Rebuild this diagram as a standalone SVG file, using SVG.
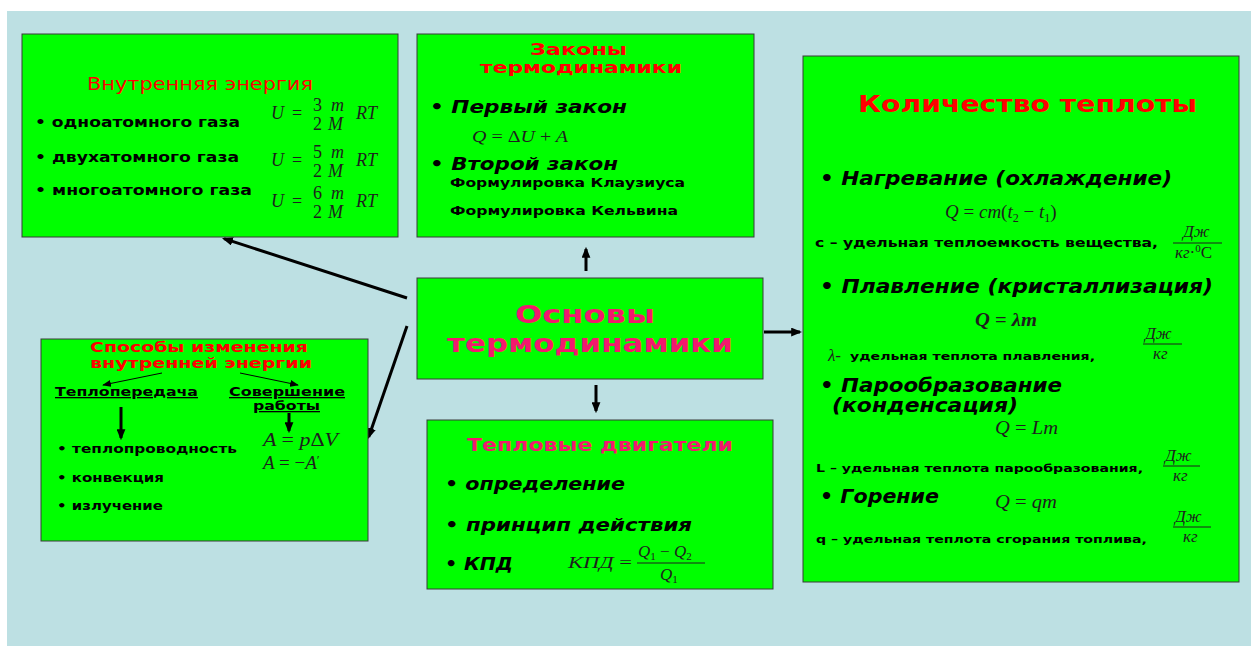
<svg xmlns="http://www.w3.org/2000/svg" width="1251" height="646" viewBox="0 0 1251 646">
<defs>
<style>
.box{fill:#00ff00;stroke:#3a3a3a;stroke-width:1}
.red{fill:#ff0000;font-family:"DejaVu Sans","Liberation Sans",sans-serif}
.pink{fill:#f2196d;font-family:"DejaVu Sans","Liberation Sans",sans-serif;font-weight:bold}
.b{fill:#000;font-family:"DejaVu Sans","Liberation Sans",sans-serif;font-weight:bold}
.bi{fill:#000;font-family:"DejaVu Sans","Liberation Sans",sans-serif;font-weight:bold;font-style:italic}
.m{fill:#1e1e1e;font-family:"Liberation Serif","DejaVu Serif",serif;font-style:italic}
.mn{font-style:normal}
.bar{stroke:#1e1e1e;stroke-width:1}
.arr{stroke:#000;stroke-width:3;fill:none}
.thin{stroke:#000;stroke-width:1;fill:none}
</style>
<marker id="ah" viewBox="0 0 10 8" refX="8" refY="4" markerUnits="userSpaceOnUse" markerWidth="11" markerHeight="9" orient="auto">
<path d="M0,0 L10,4 L0,8 Z" fill="#000"/>
</marker>
<marker id="ahs" viewBox="0 0 10 8" refX="9" refY="4" markerUnits="userSpaceOnUse" markerWidth="9" markerHeight="7" orient="auto">
<path d="M0,0 L10,4 L0,8 Z" fill="#000"/>
</marker>
</defs>
<rect x="0" y="0" width="1251" height="646" fill="#ffffff"/>
<rect x="7" y="11" width="1244" height="635" fill="#bde0e3"/>

<g id="connectors">
<line class="arr" x1="407" y1="298" x2="224" y2="238.6" marker-end="url(#ah)"/>
<line class="arr" x1="407" y1="326" x2="368.7" y2="437" marker-end="url(#ah)"/>
<line class="arr" x1="586" y1="271" x2="586" y2="249" marker-end="url(#ah)"/>
<line class="arr" x1="596" y1="385" x2="596" y2="411" marker-end="url(#ah)"/>
<line class="arr" x1="764" y1="332" x2="800" y2="332" marker-end="url(#ah)"/>
</g>

<g id="node-internal-energy">
<rect class="box" x="22" y="34" width="376" height="203"/>
<text class="red" x="87" y="90" font-size="17" textLength="226" lengthAdjust="spacingAndGlyphs">Внутренняя энергия</text>
<text class="b" x="35" y="127" font-size="13.5" textLength="205" lengthAdjust="spacingAndGlyphs">• одноатомного газа</text>
<text class="b" x="35" y="162" font-size="13.5" textLength="204" lengthAdjust="spacingAndGlyphs">• двухатомного газа</text>
<text class="b" x="35" y="195" font-size="13.5" textLength="217" lengthAdjust="spacingAndGlyphs">• многоатомного газа</text>
<g class="m" font-size="18">
<text x="271" y="119">U</text><text class="mn" x="292" y="119">=</text><text class="mn" x="313" y="111">3</text><text class="mn" x="313" y="130">2</text><text x="331" y="111">m</text><text x="328" y="130">M</text><text x="356" y="119">RT</text>
<text x="271" y="166">U</text><text class="mn" x="292" y="166">=</text><text class="mn" x="313" y="158">5</text><text class="mn" x="313" y="177">2</text><text x="331" y="158">m</text><text x="328" y="177">M</text><text x="356" y="166">RT</text>
<text x="271" y="207">U</text><text class="mn" x="292" y="207">=</text><text class="mn" x="313" y="199">6</text><text class="mn" x="313" y="218">2</text><text x="331" y="199">m</text><text x="328" y="218">M</text><text x="356" y="207">RT</text>
</g>
</g>

<g id="node-laws">
<rect class="box" x="417" y="34" width="337" height="203"/>
<text class="red" font-weight="bold" x="530" y="55" font-size="16" textLength="97" lengthAdjust="spacingAndGlyphs">Законы</text>
<text class="red" font-weight="bold" x="480" y="73" font-size="16" textLength="202" lengthAdjust="spacingAndGlyphs">термодинамики</text>
<text class="bi" x="430" y="113" font-size="18" textLength="197" lengthAdjust="spacingAndGlyphs">• Первый закон</text>
<text class="m" x="472" y="142" font-size="17" textLength="96" lengthAdjust="spacingAndGlyphs">Q <tspan class="mn">= Δ</tspan>U <tspan class="mn">+</tspan> A</text>
<text class="bi" x="430" y="170" font-size="18" textLength="188" lengthAdjust="spacingAndGlyphs">• Второй закон</text>
<text class="b" x="450" y="187" font-size="12" textLength="235" lengthAdjust="spacingAndGlyphs">Формулировка Клаузиуса</text>
<text class="b" x="450" y="215" font-size="12" textLength="228" lengthAdjust="spacingAndGlyphs">Формулировка Кельвина</text>
</g>

<g id="node-heat">
<rect class="box" x="803" y="56" width="436" height="526"/>
<text class="red" font-weight="bold" x="858" y="112" font-size="23" textLength="339" lengthAdjust="spacingAndGlyphs">Количество теплоты</text>
<text class="bi" x="820" y="185" font-size="19" textLength="352" lengthAdjust="spacingAndGlyphs">• Нагревание (охлаждение)</text>
<text class="m" x="945" y="218" font-size="19">Q <tspan class="mn">=</tspan> cm<tspan class="mn">(</tspan>t<tspan font-size="12" dy="4" class="mn">2</tspan><tspan dy="-4"> </tspan><tspan class="mn">−</tspan> t<tspan font-size="12" dy="4" class="mn">1</tspan><tspan dy="-4" class="mn">)</tspan></text>
<text class="b" x="815" y="247" font-size="12" textLength="343" lengthAdjust="spacingAndGlyphs">c – удельная теплоемкость вещества,</text>
<text class="m" x="1183" y="237" font-size="17">Дж</text>
<line class="bar" x1="1173" y1="243" x2="1222" y2="243"/>
<text class="m" x="1175" y="258" font-size="17">кг<tspan class="mn">·</tspan><tspan class="mn" font-size="11" dy="-6">0</tspan><tspan dy="6" class="mn">C</tspan></text>

<text class="bi" x="820" y="293" font-size="19" textLength="393" lengthAdjust="spacingAndGlyphs">• Плавление (кристаллизация)</text>
<text class="m" x="975" y="326" font-size="19" font-weight="bold" textLength="62" lengthAdjust="spacingAndGlyphs">Q <tspan class="mn">=</tspan> λm</text>
<text class="m" x="828" y="361" font-size="17">λ-</text>
<text class="b" x="850" y="360" font-size="11" textLength="245" lengthAdjust="spacingAndGlyphs">удельная теплота плавления,</text>
<text class="m" x="1145" y="339" font-size="17">Дж</text>
<line class="bar" x1="1143" y1="344" x2="1182" y2="344"/>
<text class="m" x="1153" y="359" font-size="17">кг</text>

<text class="bi" x="820" y="392" font-size="19" textLength="242" lengthAdjust="spacingAndGlyphs">• Парообразование</text>
<text class="bi" x="832" y="412" font-size="19" textLength="186" lengthAdjust="spacingAndGlyphs">(конденсация)</text>
<text class="m" x="995" y="434" font-size="19" textLength="63" lengthAdjust="spacingAndGlyphs">Q <tspan class="mn">=</tspan> Lm</text>
<text class="b" x="816" y="472" font-size="11" textLength="327" lengthAdjust="spacingAndGlyphs">L – удельная теплота парообразования,</text>
<text class="m" x="1165" y="461" font-size="17">Дж</text>
<line class="bar" x1="1163" y1="466" x2="1200" y2="466"/>
<text class="m" x="1173" y="481" font-size="17">кг</text>

<text class="bi" x="820" y="503" font-size="19" textLength="119" lengthAdjust="spacingAndGlyphs">• Горение</text>
<text class="m" x="995" y="508" font-size="19" textLength="62" lengthAdjust="spacingAndGlyphs">Q <tspan class="mn">=</tspan> qm</text>
<text class="b" x="816" y="543" font-size="11" textLength="331" lengthAdjust="spacingAndGlyphs">q – удельная теплота сгорания топлива,</text>
<text class="m" x="1175" y="522" font-size="17">Дж</text>
<line class="bar" x1="1173" y1="527" x2="1211" y2="527"/>
<text class="m" x="1183" y="542" font-size="17">кг</text>
</g>

<g id="node-center">
<rect class="box" x="417" y="278" width="346" height="101"/>
<text class="pink" x="515" y="323" font-size="24" textLength="140" lengthAdjust="spacingAndGlyphs">Основы</text>
<text class="pink" x="447" y="352" font-size="24" textLength="286" lengthAdjust="spacingAndGlyphs">термодинамики</text>
</g>

<g id="node-methods">
<rect class="box" x="41" y="339" width="327" height="202"/>
<text class="red" font-weight="bold" x="90" y="352" font-size="14" textLength="218" lengthAdjust="spacingAndGlyphs">Способы изменения</text>
<text class="red" font-weight="bold" x="90" y="368" font-size="14" textLength="222" lengthAdjust="spacingAndGlyphs">внутренней энергии</text>
<line class="thin" x1="162" y1="373" x2="103" y2="385" marker-end="url(#ahs)"/>
<line class="thin" x1="240" y1="373" x2="298" y2="385" marker-end="url(#ahs)"/>
<text class="b" x="55" y="396" font-size="13" text-decoration="underline" textLength="143" lengthAdjust="spacingAndGlyphs">Теплопередача</text>
<text class="b" x="229" y="396" font-size="13" text-decoration="underline" textLength="116" lengthAdjust="spacingAndGlyphs">Совершение</text>
<text class="b" x="253" y="410" font-size="13" text-decoration="underline" textLength="67" lengthAdjust="spacingAndGlyphs">работы</text>
<line class="arr" x1="121" y1="407" x2="121" y2="438" marker-end="url(#ah)"/>
<line class="arr" x1="289" y1="413" x2="289" y2="431" stroke-width="2.5" marker-end="url(#ah)"/>
<text class="m" x="263" y="446" font-size="19" textLength="75" lengthAdjust="spacingAndGlyphs">A <tspan class="mn">=</tspan> p<tspan class="mn">Δ</tspan>V</text>
<text class="m" x="263" y="469" font-size="19">A <tspan class="mn">= −</tspan>A<tspan class="mn" font-size="13" dy="-5">′</tspan></text>
<text class="b" x="57" y="453" font-size="12.5" textLength="180" lengthAdjust="spacingAndGlyphs">• теплопроводность</text>
<text class="b" x="57" y="482" font-size="12.5" textLength="107" lengthAdjust="spacingAndGlyphs">• конвекция</text>
<text class="b" x="57" y="510" font-size="12.5" textLength="106" lengthAdjust="spacingAndGlyphs">• излучение</text>
</g>

<g id="node-engines">
<rect class="box" x="427" y="420" width="346" height="169"/>
<text class="pink" x="467" y="451" font-size="17" textLength="266" lengthAdjust="spacingAndGlyphs">Тепловые двигатели</text>
<text class="bi" x="445" y="490" font-size="17" textLength="180" lengthAdjust="spacingAndGlyphs">• определение</text>
<text class="bi" x="445" y="531" font-size="17" textLength="247" lengthAdjust="spacingAndGlyphs">• принцип действия</text>
<text class="bi" x="445" y="570" font-size="17" textLength="68" lengthAdjust="spacingAndGlyphs">• КПД</text>
<text class="m" x="568" y="568" font-size="17" textLength="64" lengthAdjust="spacingAndGlyphs">КПД <tspan class="mn">=</tspan></text>
<text class="m" x="638" y="557" font-size="17">Q<tspan class="mn" font-size="11" dy="3">1</tspan><tspan class="mn" dy="-3"> − </tspan>Q<tspan class="mn" font-size="11" dy="3">2</tspan></text>
<line class="bar" x1="637" y1="563" x2="705" y2="563"/>
<text class="m" x="660" y="580" font-size="17">Q<tspan class="mn" font-size="11" dy="3">1</tspan></text>
</g>
</svg>
